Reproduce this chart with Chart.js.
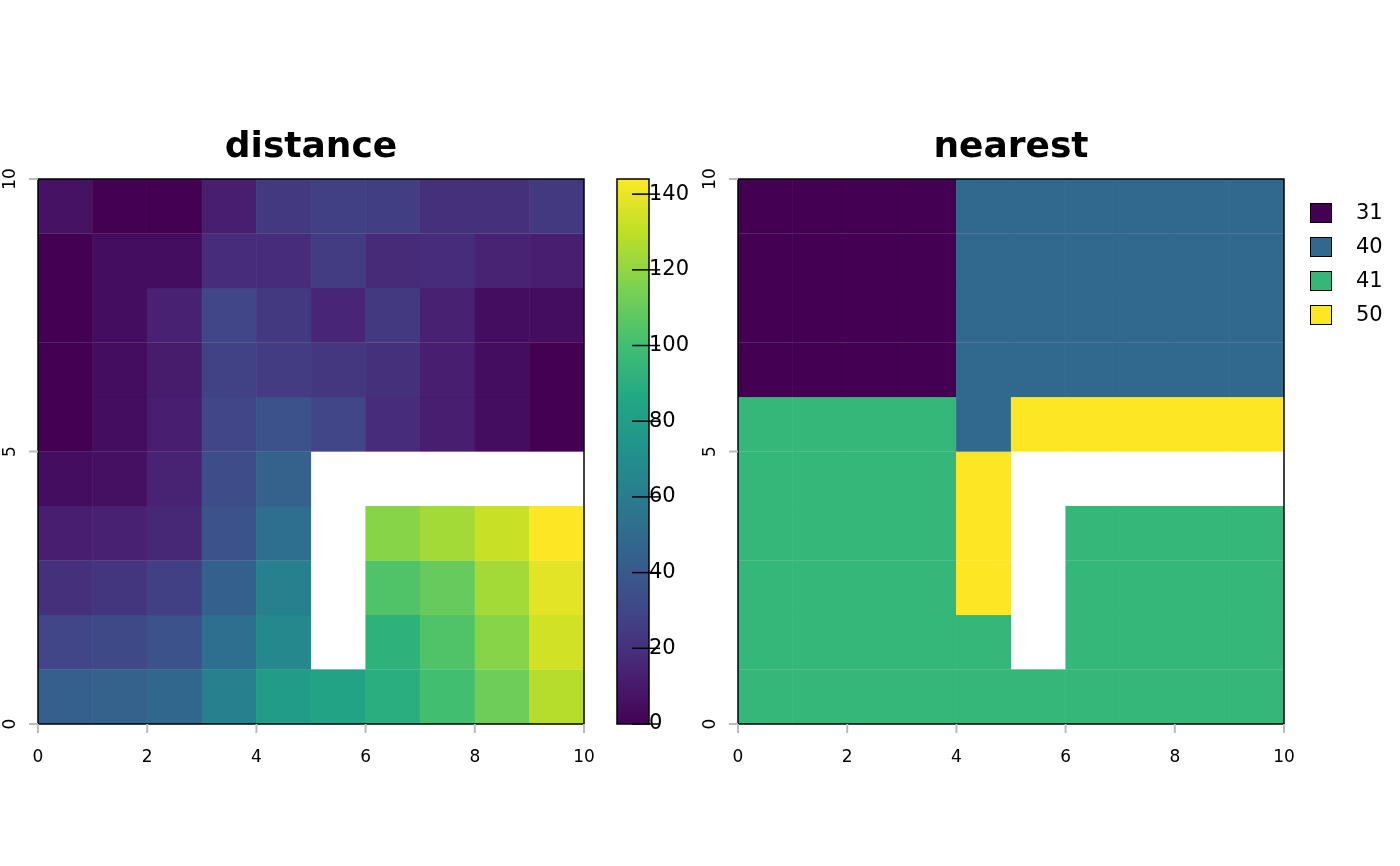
<!DOCTYPE html>
<html>
<head>
<meta charset="utf-8">
<script src="https://cdn.jsdelivr.net/npm/chart.js@4.4.1/dist/chart.umd.min.js"></script>
<style>
  body { margin: 0; background: #fff; font-family: "DejaVu Sans", sans-serif; }
  #wrap { position: relative; width: 1400px; height: 866px; }
  canvas { position: absolute; left: 0; top: 0; }
  .title { position: absolute; top: 124px; font-weight: bold; font-size: 36px; transform: translateX(-50%); }
  .leg { position: absolute; left: 1310px; font-size: 21px; }
  .leg span { display: inline-block; width: 20px; height: 18px; border: 1px solid #000; vertical-align: middle; margin-right: 24px; }
</style>
</head>
<body>
<div id="wrap">
  <canvas id="distChart" width="1400" height="866"></canvas>
  <canvas id="barChart" width="1400" height="866"></canvas>
  <canvas id="nearChart" width="1400" height="866"></canvas>
  <div class="title" style="left:311px">distance</div>
  <div class="title" style="left:1011px">nearest</div>
  <div id="legend"></div>
</div>
<script>
// filas de arriba (y 9-10) hacia abajo (y 0-1); null = NA
const distanceRows = [
  [7, 0, 0, 12, 24, 27, 26, 20, 20, 24],
  [0, 5, 5, 18, 18, 25, 17, 18, 14, 12],
  [0, 5, 13, 30, 24, 15, 24, 13, 5, 5],
  [0, 5, 11, 28, 25, 23, 20, 12, 5, 0],
  [0, 5, 12, 30, 36, 30, 18, 12, 5, 0],
  [5, 6, 14, 33, 45, null, null, null, null, null],
  [12, 13, 16, 36, 52, null, 118, 124, 132, 144],
  [20, 22, 27, 44, 62, null, 104, 110, 124, 138],
  [30, 32, 36, 52, 67, null, 92, 104, 118, 134],
  [43, 45, 48, 62, 79, 83, 90, 100, 112, 128]
];
const nearestRows = [
  [31, 31, 31, 31, 40, 40, 40, 40, 40, 40],
  [31, 31, 31, 31, 40, 40, 40, 40, 40, 40],
  [31, 31, 31, 31, 40, 40, 40, 40, 40, 40],
  [31, 31, 31, 31, 40, 40, 40, 40, 40, 40],
  [41, 41, 41, 41, 40, 50, 50, 50, 50, 50],
  [41, 41, 41, 41, 50, null, null, null, null, null],
  [41, 41, 41, 41, 50, null, 41, 41, 41, 41],
  [41, 41, 41, 41, 50, null, 41, 41, 41, 41],
  [41, 41, 41, 41, 41, null, 41, 41, 41, 41],
  [41, 41, 41, 41, 41, 41, 41, 41, 41, 41]
];
const categories = [31, 40, 41, 50];
const categoryColors = ['#440154', '#31688e', '#35b779', '#fde725'];
const xTicks = [0, 2, 4, 6, 8, 10];
const yTicks = [0, 5, 10];
const barTicks = [0, 20, 40, 60, 80, 100, 120, 140];
const distMax = 144;

const viridisStops = ['#440154', '#482475', '#414487', '#355f8d', '#2a788e', '#21918c',
                      '#22a884', '#44bf70', '#7ad151', '#bddf26', '#fde725'];
function hex(c) { return [1, 3, 5].map(i => parseInt(c.substr(i, 2), 16)); }
function viridis(t) {
  t = Math.max(0, Math.min(1, t)) * (viridisStops.length - 1);
  const i = Math.min(Math.floor(t), viridisStops.length - 2), f = t - i;
  const a = hex(viridisStops[i]), b = hex(viridisStops[i + 1]);
  return 'rgb(' + a.map((v, k) => Math.round(v + (b[k] - v) * f)).join(',') + ')';
}

// Ejes al estilo de terra: marco negro, ticks grises, etiquetas del eje y giradas
const framePlugin = {
  id: 'frame',
  afterDraw(chart) {
    const o = chart.options.plugins.frame;
    if (!o) return;
    const { ctx, chartArea: a, scales } = chart;
    ctx.save();
    ctx.strokeStyle = '#000'; ctx.lineWidth = 1.5;
    ctx.strokeRect(a.left, a.top, a.right - a.left, a.bottom - a.top);
    ctx.strokeStyle = '#bbb'; ctx.lineWidth = 2;
    ctx.fillStyle = '#000'; ctx.font = '17px "DejaVu Sans"';
    ctx.textAlign = 'center'; ctx.textBaseline = 'top';
    xTicks.forEach(v => {
      const x = scales.x.getPixelForValue(v);
      ctx.beginPath(); ctx.moveTo(x, a.bottom); ctx.lineTo(x, a.bottom + 9); ctx.stroke();
      ctx.fillText(String(v), x, a.bottom + 25);
    });
    yTicks.forEach(v => {
      const y = scales.y.getPixelForValue(v);
      ctx.beginPath(); ctx.moveTo(a.left, y); ctx.lineTo(a.left - 9, y); ctx.stroke();
      ctx.save(); ctx.translate(a.left - 27, y); ctx.rotate(-Math.PI / 2);
      ctx.textBaseline = 'middle';
      ctx.fillText(String(v), 0, 0); ctx.restore();
    });
    ctx.restore();
  }
};

function gridDatasets(rows, colorOf) {
  return rows.map((row, r) => {
    const y0 = 9 - r;
    return {
      data: row.map((v, c) => ({ x: c + 0.5, y: v === null ? null : [y0, y0 + 1] })),
      backgroundColor: row.map(v => v === null ? 'rgba(0,0,0,0)' : colorOf(v)),
      borderColor: row.map(v => v === null ? 'rgba(0,0,0,0)' : colorOf(v)),
      borderWidth: 0.6,
      borderSkipped: false,
      grouped: false,
      barPercentage: 1,
      categoryPercentage: 1
    };
  });
}

function gridOptions(left) {
  return {
    responsive: false,
    animation: false,
    layout: { padding: { left: left, right: 1400 - left - 546, top: 179, bottom: 866 - 724 } },
    plugins: { legend: { display: false }, tooltip: { enabled: false }, frame: true },
    scales: {
      x: { type: 'linear', min: 0, max: 10, offset: false, display: false },
      y: { type: 'linear', min: 0, max: 10, display: false }
    }
  };
}

new Chart(document.getElementById('distChart'), {
  type: 'bar',
  data: { datasets: gridDatasets(distanceRows, v => viridis(v / distMax)) },
  options: gridOptions(38),
  plugins: [framePlugin]
});

new Chart(document.getElementById('nearChart'), {
  type: 'bar',
  data: { datasets: gridDatasets(nearestRows, v => categoryColors[categories.indexOf(v)]) },
  options: gridOptions(738),
  plugins: [framePlugin]
});

// Barra de color
const barTicksPlugin = {
  id: 'barTicks',
  afterDraw(chart) {
    const { ctx, chartArea: a, scales } = chart;
    ctx.save();
    ctx.strokeStyle = '#000'; ctx.lineWidth = 1.5;
    ctx.strokeRect(a.left, a.top, a.right - a.left, a.bottom - a.top);
    ctx.fillStyle = '#000'; ctx.font = '21px "DejaVu Sans"';
    ctx.textAlign = 'left'; ctx.textBaseline = 'middle';
    barTicks.forEach(v => {
      const y = scales.y.getPixelForValue(v);
      ctx.beginPath(); ctx.moveTo(a.right - 17, y); ctx.lineTo(a.right + 11, y); ctx.stroke();
      ctx.fillText(String(v), a.right + 0, y);
    });
    ctx.restore();
  }
};

new Chart(document.getElementById('barChart'), {
  type: 'bar',
  data: {
    datasets: [{
      data: [{ x: 0.5, y: [0, distMax] }],
      backgroundColor: (c) => {
        const a = c.chart.chartArea;
        if (!a) return '#440154';
        const g = c.chart.ctx.createLinearGradient(0, a.bottom, 0, a.top);
        for (let i = 0; i <= 40; i++) g.addColorStop(i / 40, viridis(i / 40));
        return g;
      },
      borderWidth: 0,
      barPercentage: 1,
      categoryPercentage: 1
    }]
  },
  options: {
    responsive: false,
    animation: false,
    layout: { padding: { left: 617, right: 1400 - 649, top: 179, bottom: 866 - 724 } },
    plugins: { legend: { display: false }, tooltip: { enabled: false } },
    scales: {
      x: { type: 'linear', min: 0, max: 1, offset: false, display: false },
      y: { type: 'linear', min: 0, max: distMax, display: false }
    }
  },
  plugins: [barTicksPlugin]
});

// Leyenda de categorías
const legend = document.getElementById('legend');
categories.forEach((c, i) => {
  const d = document.createElement('div');
  d.className = 'leg';
  d.style.top = (200 + i * 34) + 'px';
  d.innerHTML = '<span style="background:' + categoryColors[i] + '"></span>' + c;
  legend.appendChild(d);
});
</script>
</body>
</html>
